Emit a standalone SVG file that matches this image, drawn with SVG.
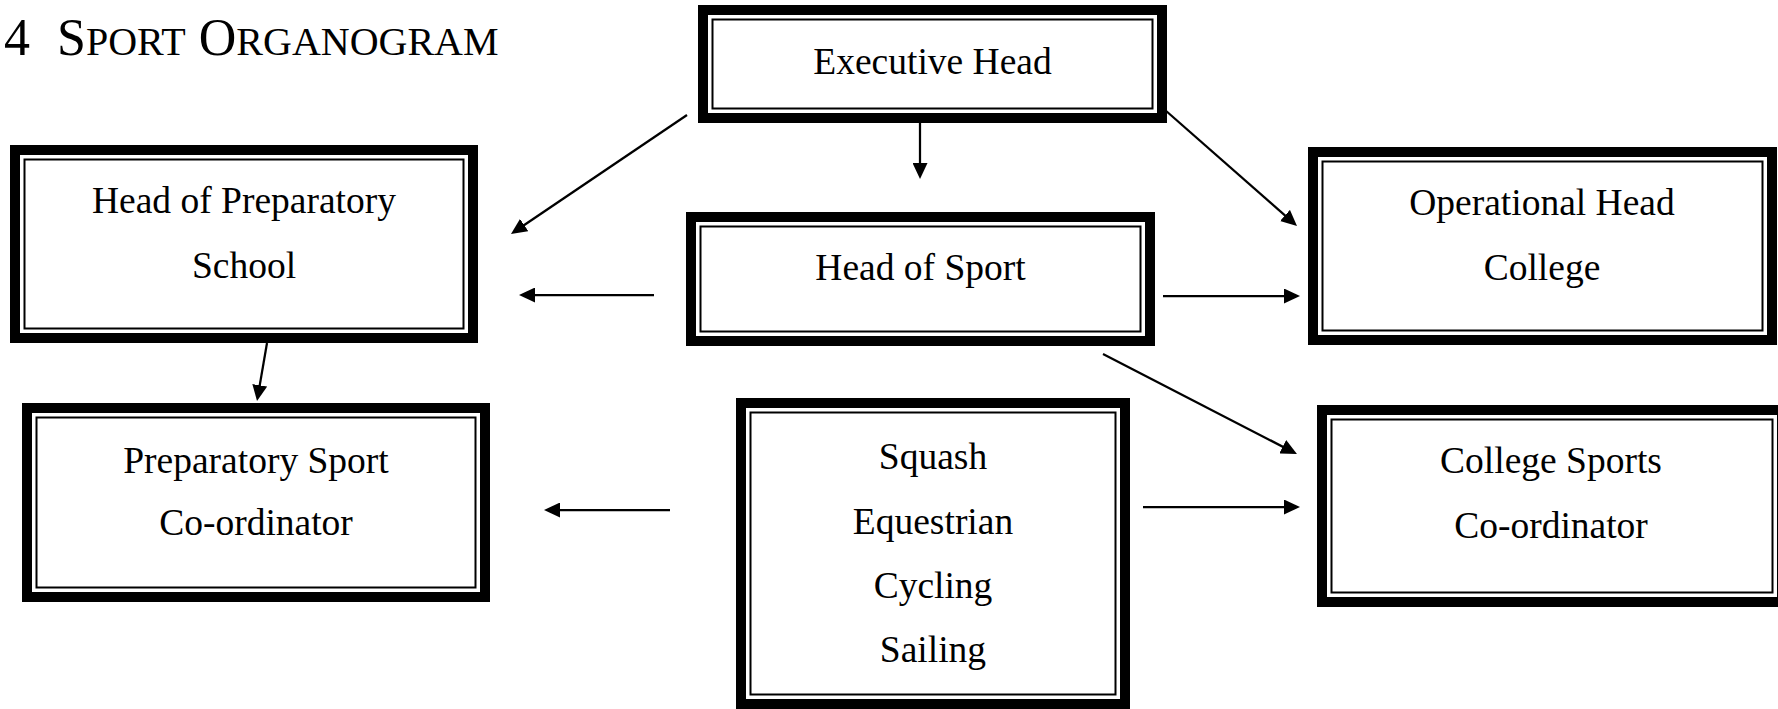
<svg xmlns="http://www.w3.org/2000/svg" width="1778" height="709" viewBox="0 0 1778 709">
<style>
.thick{fill:#fff;stroke:#000;stroke-width:10}
.thin{fill:none;stroke:#000;stroke-width:2}
.t{font-family:"Liberation Serif","Times New Roman",serif;font-size:37.5px;fill:#000;text-anchor:middle}
.title{font-family:"Liberation Serif","Times New Roman",serif;fill:#000}
.c{fill:none;stroke:#000;stroke-width:2.25;marker-end:url(#ah)}
</style>
<defs>
<marker id="ah" markerUnits="userSpaceOnUse" markerWidth="16" markerHeight="15" refX="12" refY="7.5" orient="auto">
<path d="M0,0 L16,7.5 L0,15 z" fill="#000"/>
</marker>
</defs>
<rect width="1778" height="709" fill="#fff"/>
<text class="title" x="4" y="55" font-size="52">4</text>
<text class="title" x="57" y="55" font-size="52">S<tspan font-size="40">PORT</tspan> O<tspan font-size="40">RGANOGRAM</tspan></text>

<g id="executive-head">
<rect class="thick" x="703" y="10" width="459" height="108"/>
<rect class="thin" x="712.5" y="19.5" width="440" height="89"/>
<text class="t" x="932.5" y="74">Executive Head</text>
</g>
<g id="head-prep">
<rect class="thick" x="15" y="150" width="458" height="188"/>
<rect class="thin" x="24.5" y="159.5" width="439" height="169"/>
<text class="t" x="244" y="213">Head of Preparatory</text>
<text class="t" x="244" y="278">School</text>
</g>
<g id="head-sport">
<rect class="thick" x="691" y="217" width="459" height="124"/>
<rect class="thin" x="700.5" y="226.5" width="440" height="105"/>
<text class="t" x="920.5" y="280">Head of Sport</text>
</g>
<g id="operational-head">
<rect class="thick" x="1313" y="152" width="459" height="188"/>
<rect class="thin" x="1322.5" y="161.5" width="440" height="169"/>
<text class="t" x="1542" y="215">Operational Head</text>
<text class="t" x="1542" y="280">College</text>
</g>
<g id="prep-sport">
<rect class="thick" x="27" y="408" width="458" height="189"/>
<rect class="thin" x="36.5" y="417.5" width="439" height="170"/>
<text class="t" x="256" y="473">Preparatory Sport</text>
<text class="t" x="256" y="535">Co-ordinator</text>
</g>
<g id="sports-list">
<rect class="thick" x="741" y="403" width="384" height="301"/>
<rect class="thin" x="750.5" y="412.5" width="365" height="282"/>
<text class="t" x="933" y="469">Squash</text>
<text class="t" x="933" y="534">Equestrian</text>
<text class="t" x="933" y="598">Cycling</text>
<text class="t" x="933" y="662">Sailing</text>
</g>
<g id="college-sports">
<rect class="thick" x="1322" y="410" width="460" height="192"/>
<rect class="thin" x="1331.5" y="419.5" width="441" height="173"/>
<text class="t" x="1551" y="473">College Sports</text>
<text class="t" x="1551" y="538">Co-ordinator</text>
</g>

<g id="connectors">
<line class="c" x1="687" y1="115" x2="514.3" y2="231.8"/>
<line class="c" x1="920" y1="122" x2="920" y2="175"/>
<line class="c" x1="1165" y1="110" x2="1294" y2="223.4"/>
<line class="c" x1="654" y1="295" x2="523" y2="295"/>
<line class="c" x1="1163" y1="296" x2="1296" y2="296"/>
<line class="c" x1="1103" y1="354" x2="1293.4" y2="452.2"/>
<line class="c" x1="267" y1="343" x2="257.7" y2="397.1"/>
<line class="c" x1="670" y1="510" x2="548" y2="510"/>
<line class="c" x1="1143" y1="507" x2="1296" y2="507"/>
</g>
</svg>
